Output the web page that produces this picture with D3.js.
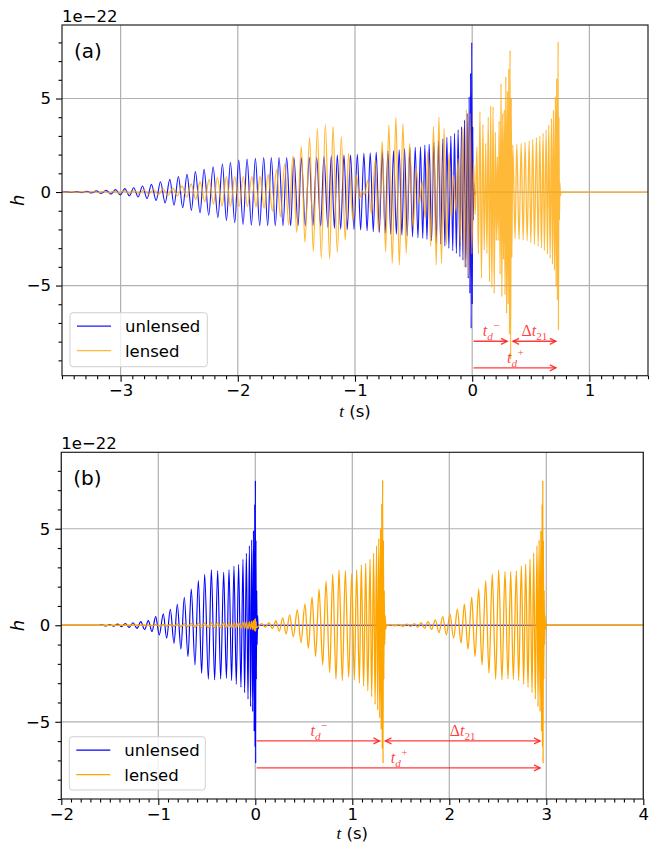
<!DOCTYPE html>
<html>
<head>
<meta charset="utf-8">
<script src="https://cdn.jsdelivr.net/npm/d3@7/dist/d3.min.js"></script>
<style>
  body { margin: 0; background: #fff; }
  svg text { font-family: "DejaVu Sans", sans-serif; }
</style>
</head>
<body>
<svg id="fig" width="659" height="842"></svg>
<script>
// Strain h (units of 1e-22) against time t (s), given as successive turning points
// of each waveform: [t, h].

// Panel (a): unlensed chirp
const unlensedA = [
  [-3.50,0],[-3.463,0.01],[-3.42,-0.015],[-3.377,0.02],[-3.334,-0.03],[-3.291,0.04],[-3.249,-0.05],
  [-3.207,0.06],[-3.165,-0.08],[-3.124,0.09],[-3.083,-0.11],[-3.043,0.13],[-3.003,-0.16],[-2.964,0.18],
  [-2.925,-0.20],[-2.888,0.23],[-2.850,-0.26],[-2.813,0.32],[-2.774,-0.35],[-2.737,0.41],[-2.697,-0.45],
  [-2.660,0.55],[-2.620,-0.58],[-2.580,0.68],[-2.544,-0.70],[-2.507,0.82],[-2.470,-0.84],[-2.433,0.94],
  [-2.396,-0.98],[-2.362,1.09],[-2.322,-1.11],[-2.288,1.21],[-2.248,-1.24],[-2.211,1.35],[-2.170,-1.36],
  [-2.131,1.50],[-2.097,-1.52],[-2.063,1.59],[-2.026,-1.64],[-1.992,1.71],[-1.955,-1.73],[-1.921,1.76],
  [-1.884,-1.77],[-1.850,1.80],[-1.813,-1.80],[-1.779,1.84],[-1.745,-1.80],[-1.714,1.84],[-1.680,-1.80],
  [-1.648,1.84],[-1.614,-1.80],[-1.583,1.84],[-1.549,-1.80],[-1.521,1.84],[-1.486,-1.80],[-1.458,1.84],
  [-1.424,-1.80],[-1.390,1.84],[-1.359,-1.80],[-1.327,1.85],[-1.293,-1.83],[-1.265,1.89],[-1.231,-1.89],
  [-1.202,1.93],[-1.176,-1.94],[-1.151,1.98],[-1.122,-1.98],[-1.094,1.98],[-1.066,-2.00],[-1.038,1.98],
  [-1.009,-2.00],[-0.980,2.01],[-0.952,-2.03],[-0.924,2.07],[-0.897,-2.07],[-0.870,2.10],[-0.844,-2.12],
  [-0.819,2.14],[-0.793,-2.16],[-0.767,2.16],[-0.743,-2.21],[-0.719,2.19],[-0.695,-2.25],[-0.671,2.21],
  [-0.647,-2.26],[-0.623,2.25],[-0.600,-2.30],[-0.577,2.32],[-0.555,-2.34],[-0.532,2.37],[-0.509,-2.39],
  [-0.486,2.39],[-0.463,-2.44],[-0.441,2.42],[-0.422,-2.48],[-0.404,2.51],[-0.386,-2.53],[-0.367,2.57],
  [-0.347,-2.60],[-0.327,2.64],[-0.307,-2.69],[-0.287,2.73],[-0.269,-2.78],[-0.250,2.85],[-0.233,-2.89],
  [-0.216,2.92],[-0.199,-3.01],[-0.182,2.99],[-0.166,-3.14],[-0.151,3.14],[-0.135,-3.28],[-0.120,3.32],
  [-0.105,-3.46],[-0.091,3.49],[-0.079,-3.64],[-0.066,3.85],[-0.054,-4.03],[-0.043,4.21],[-0.034,-4.62],
  [-0.026,5.10],[-0.020,-5.42],[-0.014,6.35],[-0.009,-7.29],[-0.004,8.00],[0.001,-6.0],[0.005,3.5],
  [0.009,-1.5],[0.013,0.5],[0.018,-0.15],[0.025,0],[0.030,0]
];

// Panel (a): lensed signal
const lensedA = [
  [-3.50,0],[-3.44,-0.005],[-3.397,0.008],[-3.354,-0.01],[-3.311,0.012],[-3.268,-0.015],[-3.225,0.02],
  [-3.182,-0.025],[-3.139,0.03],[-3.096,-0.035],[-3.053,0.04],[-3.011,-0.05],[-2.969,0.06],[-2.927,-0.07],
  [-2.885,0.08],[-2.843,-0.09],[-2.801,0.10],[-2.760,-0.11],[-2.719,0.13],[-2.678,-0.14],[-2.637,0.16],
  [-2.596,-0.17],[-2.555,0.21],[-2.515,-0.21],[-2.475,0.32],[-2.435,-0.27],[-2.398,0.43],[-2.359,-0.39],
  [-2.322,0.55],[-2.282,-0.52],[-2.245,0.68],[-2.208,-0.64],[-2.174,0.78],[-2.134,-0.75],[-2.097,0.82],
  [-2.063,-0.78],[-2.026,0.82],[-1.989,-0.78],[-1.953,0.82],[-1.918,-0.78],[-1.880,0.82],[-1.845,-0.80],
  [-1.810,0.84],[-1.776,-0.87],[-1.742,0.94],[-1.705,-1.02],[-1.670,1.20],[-1.636,-1.32],[-1.600,1.50],
  [-1.566,-1.76],[-1.529,1.93],[-1.497,-2.16],[-1.458,2.42],[-1.427,-2.69],[-1.387,2.92],[-1.356,-3.19],
  [-1.321,3.40],[-1.288,-3.55],[-1.253,3.62],[-1.216,-3.58],[-1.188,3.49],[-1.151,-3.24],[-1.117,2.96],
  [-1.083,-2.57],[-1.055,2.07],[-1.018,-1.50],[-0.989,0.91],[-0.961,-0.34],[-0.940,0.05],[-0.918,-0.15],
  [-0.890,0.64],[-0.861,-1.14],[-0.827,1.71],[-0.799,-2.12],[-0.768,2.69],[-0.739,-3.19],[-0.711,3.58],
  [-0.682,-3.81],[-0.651,3.99],[-0.622,-3.90],[-0.591,3.64],[-0.563,-3.28],[-0.534,2.60],[-0.503,-1.94],
  [-0.478,1.27],[-0.449,-0.61],[-0.426,0.6],[-0.402,-1.4],[-0.378,2.2],[-0.354,-2.9],[-0.330,3.5],
  [-0.307,-3.9],[-0.284,4.0],[-0.262,-3.8],[-0.240,3.4],[-0.219,-2.8],[-0.198,2.1],[-0.178,-1.4],
  [-0.158,0.9],[-0.139,-1.0],[-0.120,1.8],[-0.102,-2.7],[-0.084,3.4],[-0.067,-4.0],[-0.050,4.4],
  [-0.034,-4.5],[-0.018,4.2],[-0.003,-3.3],[0.012,1.6],[0.026,-1.2],[0.040,2.4],[0.053,-3.3],
  [0.066,4.3],[0.079,-4.6],[0.091,3.6],[0.103,-3.1],[0.115,2.6],[0.126,-3.3],[0.137,4.0],[0.148,-4.8],
  [0.158,4.6],[0.168,-5.1],[0.178,4.56],[0.188,-5.42],[0.197,3.2],[0.206,-2.6],[0.214,1.9],[0.222,-2.6],
  [0.230,3.8],[0.238,-4.4],[0.246,5.81],[0.253,-5.6],[0.260,4.2],[0.267,-3.6],[0.274,4.4],[0.280,-5.5],
  [0.287,6.17],[0.293,-6.49],[0.300,5.4],[0.306,-6.0],[0.312,6.6],[0.318,-7.6],[0.323,7.59],[0.328,-8.95],
  [0.333,5.0],[0.338,-3.5],[0.346,2.51],[0.366,-2.48],[0.380,2.57],[0.400,-2.53],[0.418,2.60],[0.435,-2.57],
  [0.451,2.66],[0.469,-2.60],[0.486,2.73],[0.500,-2.71],[0.517,2.82],[0.531,-2.80],[0.548,2.91],
  [0.563,-2.89],[0.577,2.99],[0.591,-2.99],[0.605,3.14],[0.616,-3.14],[0.631,3.32],[0.642,-3.32],
  [0.653,3.58],[0.665,-3.55],[0.676,3.94],[0.685,-3.85],[0.693,4.39],[0.702,-4.17],[0.710,5.10],
  [0.716,-5.06],[0.721,6.08],[0.727,-5.78],[0.733,8.04],[0.736,-7.38],[0.740,4.0],[0.744,-1.5],
  [0.748,0.5],[0.752,-0.2],[0.758,0],[1.50,0]
];

// Panel (b): unlensed chirp
const unlensedB = [
  [-2.00,0],[-1.62,0],[-1.58,0.02],[-1.54,-0.03],[-1.50,0.04],[-1.46,-0.05],[-1.42,0.06],[-1.38,-0.07],
  [-1.34,0.09],[-1.30,-0.11],[-1.26,0.13],[-1.22,-0.16],[-1.18,0.19],[-1.141,-0.22],[-1.103,0.24],
  [-1.065,-0.33],[-1.027,0.45],[-0.990,-0.50],[-0.948,0.59],[-0.914,-0.67],[-0.876,0.83],[-0.838,-0.93],
  [-0.804,1.09],[-0.767,-1.23],[-0.732,1.45],[-0.694,-1.62],[-0.660,1.88],[-0.622,-2.06],[-0.587,2.32],
  [-0.553,-2.49],[-0.522,2.64],[-0.484,-2.80],[-0.453,2.87],[-0.419,-2.83],[-0.388,2.82],[-0.357,-2.78],
  [-0.326,2.75],[-0.298,-2.75],[-0.271,2.87],[-0.244,-2.87],[-0.220,3.07],[-0.196,-3.06],[-0.172,3.16],
  [-0.148,-3.21],[-0.127,3.42],[-0.110,-3.49],[-0.092,3.73],[-0.075,-3.83],[-0.061,4.11],[-0.048,-4.21],
  [-0.037,4.42],[-0.027,-4.47],[-0.019,4.90],[-0.012,-5.50],[-0.006,6.27],[-0.002,-6.3],[0.001,7.50],
  [0.004,-7.15],[0.007,4.4],[0.011,-2.8],[0.015,1.8],[0.019,-1.0],[0.024,0.5],[0.029,-0.2],[0.035,0],
  [4.00,0]
];

// Panel (b): lensed signal
const lensedB = [
  [-2.00,0],[-1.15,0],[-1.103,0.02],[-1.065,-0.03],[-1.027,0.03],[-0.990,-0.04],[-0.948,0.04],
  [-0.914,-0.05],[-0.876,0.05],[-0.838,-0.06],[-0.804,0.07],[-0.767,-0.08],[-0.732,0.08],[-0.694,-0.09],
  [-0.660,0.10],[-0.622,-0.11],[-0.587,0.11],[-0.553,-0.12],[-0.522,0.12],[-0.484,-0.13],[-0.453,0.13],
  [-0.419,-0.13],[-0.388,0.13],[-0.357,-0.13],[-0.326,0.13],[-0.298,-0.13],[-0.271,0.13],[-0.244,-0.14],
  [-0.220,0.14],[-0.196,-0.14],[-0.172,0.15],[-0.148,-0.15],[-0.127,0.16],[-0.110,-0.16],[-0.092,0.17],
  [-0.075,-0.18],[-0.061,0.19],[-0.048,-0.20],[-0.037,0.21],[-0.027,-0.22],[-0.019,0.24],[-0.012,-0.26],
  [-0.006,0.30],[-0.002,-0.30],[0.001,0.35],[0.004,-0.30],[0.007,0.20],[0.011,-0.12],[0.030,-0.06],
  [0.066,0.08],[0.103,-0.10],[0.140,0.13],[0.176,-0.17],[0.212,0.22],[0.248,-0.30],[0.283,0.38],
  [0.318,-0.45],[0.354,0.54],[0.392,-0.59],[0.433,0.79],[0.471,-0.90],[0.512,1.09],[0.547,-1.19],
  [0.585,1.45],[0.622,-1.62],[0.657,1.87],[0.695,-2.06],[0.729,2.30],[0.767,-2.45],[0.798,2.66],
  [0.832,-2.80],[0.863,2.87],[0.897,-2.87],[0.928,2.83],[0.963,-2.69],[0.994,2.66],[1.021,-2.83],
  [1.045,2.87],[1.073,-3.00],[1.093,3.13],[1.117,-3.15],[1.138,3.21],[1.160,-3.40],[1.183,3.42],
  [1.200,-3.70],[1.220,3.73],[1.235,-4.10],[1.250,4.11],[1.262,-4.40],[1.273,4.50],[1.283,-4.80],
  [1.291,5.00],[1.298,-5.40],[1.304,6.30],[1.309,-6.40],[1.313,7.53],[1.317,-7.15],[1.321,4.4],
  [1.325,-2.8],[1.329,1.8],[1.334,-1.0],[1.339,0.5],[1.345,-0.2],[1.352,0],[1.40,0.02],[1.44,-0.03],
  [1.48,0.04],[1.52,-0.05],[1.56,0.06],[1.60,-0.07],[1.64,0.09],[1.675,-0.11],[1.71,0.13],[1.745,-0.16],
  [1.780,0.19],[1.818,-0.21],[1.856,0.28],[1.894,-0.38],[1.932,0.45],[1.970,-0.50],[2.007,0.59],
  [2.045,-0.67],[2.083,0.83],[2.121,-0.93],[2.155,1.09],[2.193,-1.23],[2.231,1.45],[2.265,-1.62],
  [2.303,1.88],[2.337,-2.06],[2.375,2.32],[2.409,-2.49],[2.443,2.66],[2.478,-2.80],[2.509,2.87],
  [2.543,-2.83],[2.574,2.78],[2.605,-2.78],[2.633,2.78],[2.660,-2.80],[2.691,2.83],[2.715,-2.87],
  [2.743,3.07],[2.767,-3.06],[2.787,3.16],[2.812,-3.21],[2.832,3.42],[2.853,-3.49],[2.870,3.73],
  [2.887,-3.83],[2.904,4.11],[2.915,-4.21],[2.926,4.42],[2.936,-4.47],[2.944,4.90],[2.951,-5.50],
  [2.957,6.27],[2.961,-6.30],[2.964,7.50],[2.967,-7.15],[2.970,4.4],[2.974,-2.8],[2.978,1.8],
  [2.982,-1.0],[2.987,0.5],[2.992,-0.2],[2.998,0],[4.00,0]
];

// Axis ticks
const xTicksA = [-3, -2, -1, 0, 1];
const xTicksB = [-2, -1, 0, 1, 2, 3, 4];
const yTicks = [-5, 0, 5];

// Image time delays (s) marked by the arrows: [t_d^-, t_d^+]
const delaysA = [0.323, 0.739];
const delaysB = [1.311, 2.966];
// Heights (in h units) of the two arrow rows: [upper, lower]
const arrowRowsA = [-7.98, -9.40];
const arrowRowsB = [-5.99, -7.39];

const seriesNames = ["unlensed", "lensed"];

const svg = d3.select("#fig");
const BLUE = "#0000ff", ORANGE = "#ffa500", RED = "#ff1a1a";
const MATH = "'Liberation Serif', 'DejaVu Serif', serif";

const panels = [
  { key: "a", box: [62, 25, 648, 375.7], xd: [-3.5, 1.5], yd: [-9.82, 8.93], xTicks: xTicksA,
    blue: unlensedA, orange: lensedA, blueOp: 0.9, orangeOp: 0.78, delays: delaysA, rows: arrowRowsA,
    legend: [70, 312.7, 137.3, 54], xlabelY: 416.5 },
  { key: "b", box: [61.3, 452.3, 643.3, 799], xd: [-2, 4], yd: [-9.0, 8.96], xTicks: xTicksB,
    blue: unlensedB, orange: lensedB, blueOp: 1, orangeOp: 1, delays: delaysB, rows: arrowRowsB,
    legend: [69.3, 736.7, 136, 53.3], xlabelY: 838.5 }
];

// italic t with a subscript followed by a raised superscript
function mathT(sel, sub, sup) {
  sel.append("tspan").attr("font-family", MATH).attr("font-style", "italic").text("t");
  sel.append("tspan").attr("font-family", MATH).attr("font-style", "italic")
    .attr("font-size", "0.7em").attr("dy", 4).text(sub);
  sel.append("tspan").attr("font-family", MATH)
    .attr("font-size", "0.7em").attr("dx", 0.5).attr("dy", -11).text(sup);
}

function arrowHead(g, x, y, dir) {
  g.append("path")
    .attr("d", `M${x - dir * 6},${y - 3} L${x},${y} L${x - dir * 6},${y + 3}`)
    .attr("fill", "none").attr("stroke", RED).attr("stroke-width", 1.4).attr("stroke-opacity", 0.85);
}

panels.forEach(p => {
  const [L, T, R, B] = p.box;
  const x = d3.scaleLinear().domain(p.xd).range([L, R]);
  const y = d3.scaleLinear().domain(p.yd).range([B, T]);
  const g = svg.append("g");

  // grid
  g.append("g").selectAll("line").data(p.xTicks).join("line")
    .attr("x1", d => x(d)).attr("x2", d => x(d)).attr("y1", T).attr("y2", B)
    .attr("stroke", "#b0b0b0").attr("stroke-width", 1.2);
  g.append("g").selectAll("line").data(yTicks).join("line")
    .attr("y1", d => y(d)).attr("y2", d => y(d)).attr("x1", L).attr("x2", R)
    .attr("stroke", "#b0b0b0").attr("stroke-width", 1.2);

  // waveforms
  const clipId = "clip-" + p.key;
  svg.append("clipPath").attr("id", clipId).append("rect")
    .attr("x", L).attr("y", T).attr("width", R - L).attr("height", B - T);
  const line = d3.line().x(d => x(d[0])).y(d => y(d[1])).curve(d3.curveMonotoneX);
  const wg = g.append("g").attr("clip-path", `url(#${clipId})`);
  wg.append("path").datum(p.blue).attr("d", line).attr("fill", "none")
    .attr("stroke", BLUE).attr("stroke-width", 1.15).attr("stroke-opacity", p.blueOp);
  wg.append("path").datum(p.orange).attr("d", line).attr("fill", "none")
    .attr("stroke", ORANGE).attr("stroke-width", 1.3).attr("stroke-opacity", p.orangeOp);

  // axes
  const fmt = d => d3.format("d")(d).replace("-", "\u2212");
  const xAxis = d3.axisBottom(x).tickValues(p.xTicks).tickSize(6).tickPadding(3).tickFormat(fmt);
  const yAxis = d3.axisLeft(y).tickValues(yTicks).tickSize(6).tickPadding(5).tickFormat(fmt);
  const xMinor = d3.range(Math.ceil(p.xd[0] * 10), Math.floor(p.xd[1] * 10) + 1).map(v => v / 10)
    .filter(v => Math.abs(v - Math.round(v)) > 1e-6);
  const yMinor = d3.range(Math.ceil(p.yd[0]), Math.floor(p.yd[1]) + 1).filter(v => v % 5 !== 0);

  const ax = g.append("g").attr("transform", `translate(0,${B})`).call(xAxis);
  const ay = g.append("g").attr("transform", `translate(${L},0)`).call(yAxis);
  g.append("g").attr("transform", `translate(0,${B})`)
    .call(d3.axisBottom(x).tickValues(xMinor).tickSize(3.5).tickFormat(""));
  g.append("g").attr("transform", `translate(${L},0)`)
    .call(d3.axisLeft(y).tickValues(yMinor).tickSize(3.5).tickFormat(""));
  g.selectAll(".domain").remove();
  g.selectAll(".tick line").attr("stroke", "#000").attr("stroke-width", 1.1);
  [ax, ay].forEach(a => a.selectAll("text").attr("font-size", 16.5).attr("fill", "#000")
    .attr("font-family", "DejaVu Sans"));

  // frame
  g.append("rect").attr("x", L).attr("y", T).attr("width", R - L).attr("height", B - T)
    .attr("fill", "none").attr("stroke", "#222").attr("stroke-width", 1.2);

  // offset text and labels
  g.append("text").attr("x", L).attr("y", T - 3).attr("font-size", 16.5).text("1e\u221222");
  g.append("text").attr("x", L + 12).attr("y", T + 33).attr("font-size", 20).text(`(${p.key})`);
  const xl = g.append("text").attr("x", (L + R) / 2).attr("y", p.xlabelY)
    .attr("text-anchor", "middle").attr("font-size", 16.5);
  xl.append("tspan").attr("font-family", MATH).attr("font-style", "italic").attr("font-size", 17).text("t");
  xl.append("tspan").text(" (s)");
  g.append("text").attr("transform", `translate(23.5,${(T + B) / 2}) rotate(-90)`)
    .attr("text-anchor", "middle").attr("font-family", MATH).attr("font-style", "italic")
    .attr("font-size", 18).text("h");

  // delay arrows
  const ag = g.append("g");
  const [tm, tp] = p.delays;
  const [r1, r2] = p.rows;
  const s = 3;
  const seg = (x1, x2, yy, heads) => {
    ag.append("line").attr("x1", x1).attr("x2", x2).attr("y1", yy).attr("y2", yy)
      .attr("stroke", RED).attr("stroke-width", 1.4).attr("stroke-opacity", 0.85);
    if (heads.includes("end")) arrowHead(ag, x2, yy, 1);
    if (heads.includes("start")) arrowHead(ag, x1, yy, -1);
  };
  seg(x(0) + 1.3, x(tm) - s, y(r1), ["end"]);
  seg(x(tm) + s, x(tp) - s, y(r1), ["start", "end"]);
  seg(x(0) + 1.3, x(tp) - s, y(r2), ["end"]);
  const lbl = (tx, yy) => ag.append("text").attr("x", tx).attr("y", yy - 5)
    .attr("text-anchor", "middle").attr("font-size", 16).attr("fill", RED).attr("fill-opacity", 0.85);
  mathT(lbl(x(tm / 2), y(r1)), "d", "\u2212");
  const dl = lbl(x((tm + tp) / 2), y(r1));
  dl.append("tspan").attr("font-family", MATH).text("\u0394");
  dl.append("tspan").attr("font-family", MATH).attr("font-style", "italic").text("t");
  dl.append("tspan").attr("font-family", MATH).attr("font-size", "0.7em").attr("dy", 4).text("21");
  mathT(lbl(x(tp / 2), y(r2)), "d", "+");

  // legend
  const [lx, ly, lw, lh] = p.legend;
  const lg = g.append("g");
  lg.append("rect").attr("x", lx).attr("y", ly).attr("width", lw).attr("height", lh).attr("rx", 3)
    .attr("fill", "#fff").attr("fill-opacity", 0.8).attr("stroke", "#d0d0d0").attr("stroke-width", 1);
  seriesNames.forEach((name, i) => {
    const yy = ly + 13.5 + i * 24.5;
    lg.append("line").attr("x1", lx + 7).attr("x2", lx + 41).attr("y1", yy).attr("y2", yy)
      .attr("stroke", i === 0 ? BLUE : ORANGE).attr("stroke-width", 1.3)
      .attr("stroke-opacity", i === 0 ? p.blueOp : p.orangeOp);
    lg.append("text").attr("x", lx + 55).attr("y", yy + 6).attr("font-size", 16.5).text(name);
  });
});
</script>
</body>
</html>
